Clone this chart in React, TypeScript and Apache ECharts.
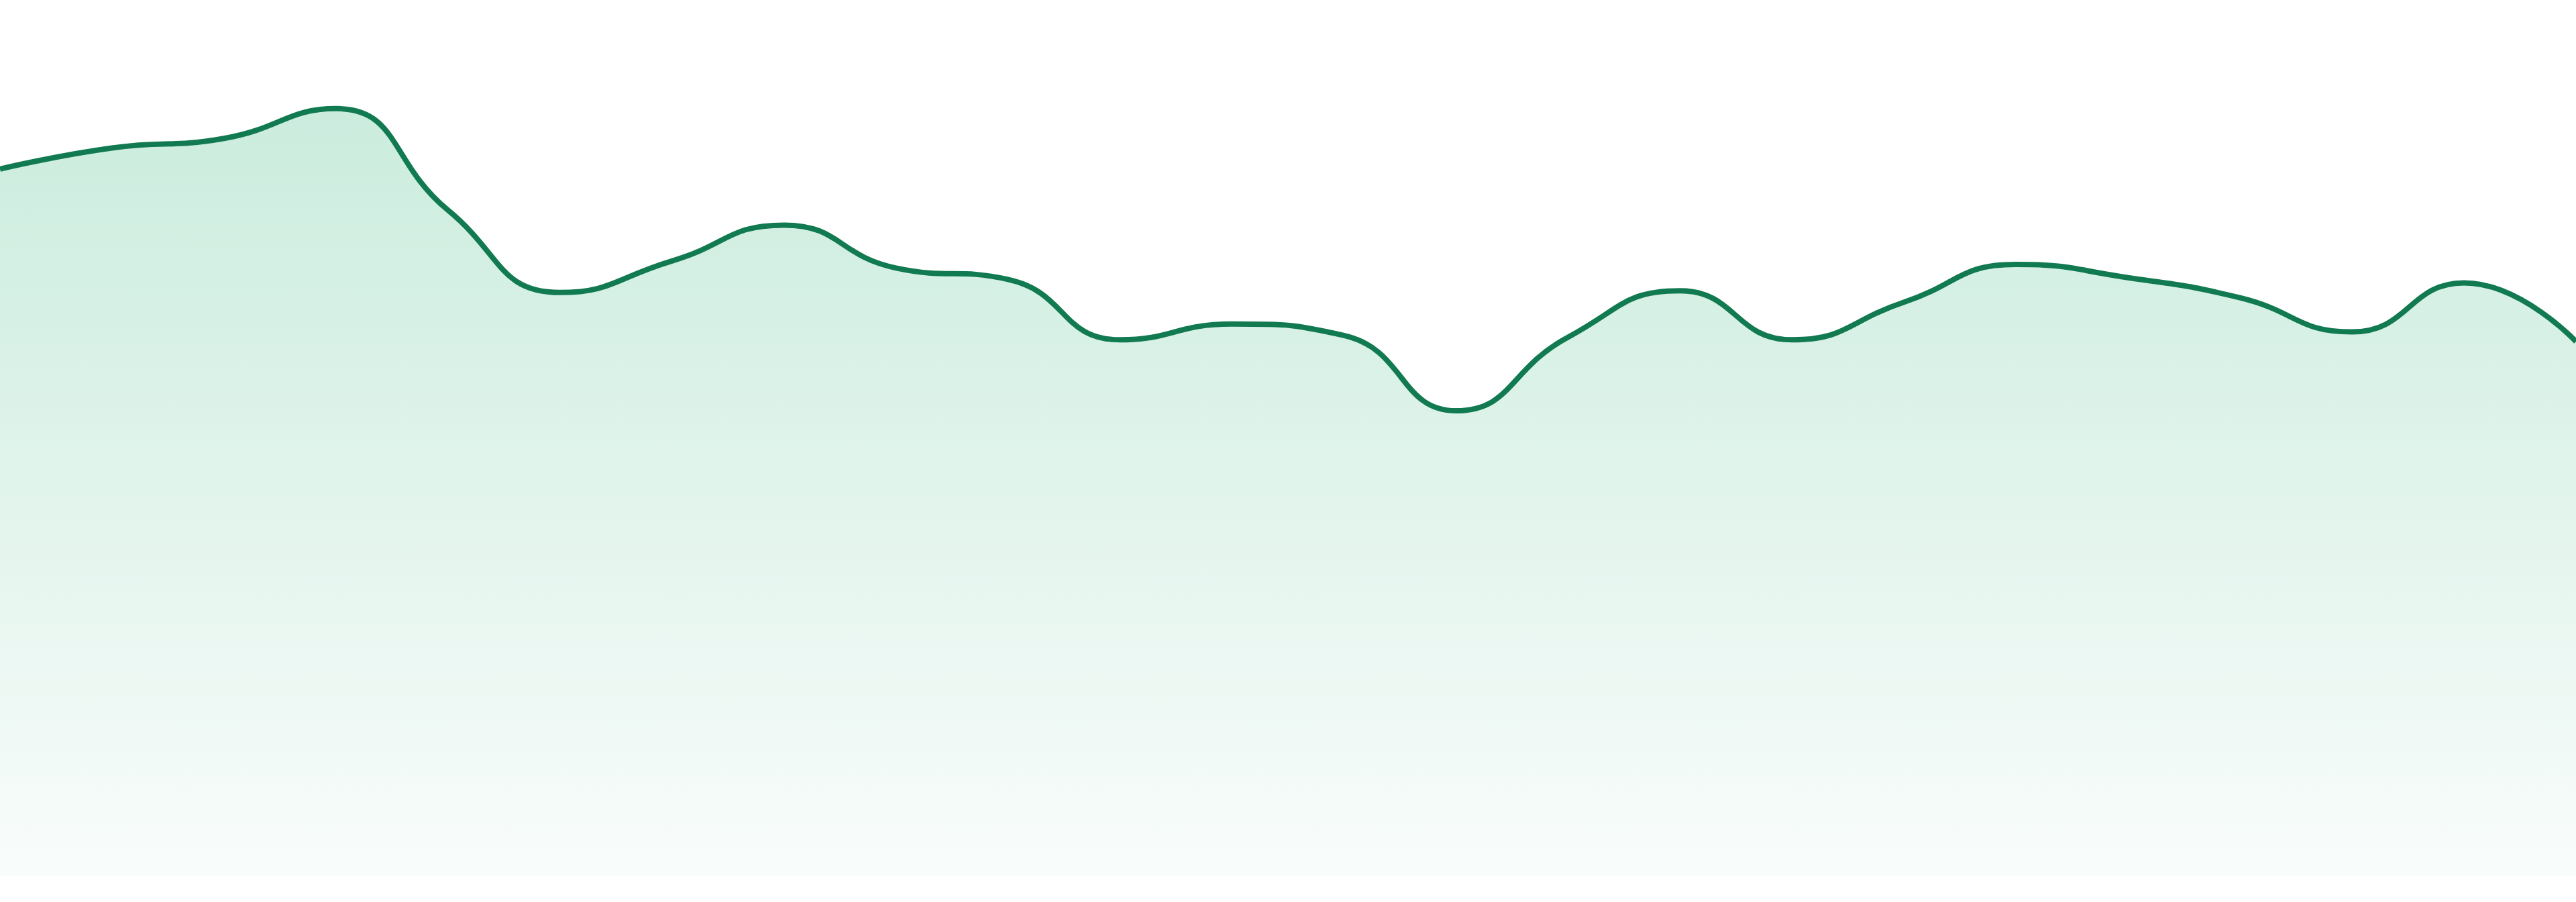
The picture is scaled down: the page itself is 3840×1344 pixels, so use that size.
import { useEffect, useRef } from 'react';
import * as echarts from 'echarts';

// ---------------------------------------------------------------------------
// Data
// ---------------------------------------------------------------------------

const HOURS = [
  '00:00', '01:00', '02:00', '03:00', '04:00', '05:00',
  '06:00', '07:00', '08:00', '09:00', '10:00', '11:00',
  '12:00', '13:00', '14:00', '15:00', '16:00', '17:00',
  '18:00', '19:00', '20:00', '21:00', '22:00', '23:00',
];

const VALUES = [
  80.7, 83.1, 84.2, 87.6, 76.0, 66.6,
  70.2, 74.3, 69.4, 68.1, 61.2, 63.0,
  61.7, 53.1, 61.5, 66.8, 61.2, 65.5,
  69.8, 68.3, 66.0, 62.1, 67.7, 61.0,
];

const Y_MIN = 0;
const Y_MAX = 100;

// ---------------------------------------------------------------------------
// Option
// ---------------------------------------------------------------------------

const LINE_COLOR = '#127a50';

function buildOption(): echarts.EChartsOption {
  return {
    animation: false,
    grid: { left: 0, right: 0, top: 0, bottom: 39 },
    xAxis: {
      type: 'category',
      data: HOURS,
      boundaryGap: false,
      show: false,
    },
    yAxis: {
      type: 'value',
      min: Y_MIN,
      max: Y_MAX,
      show: false,
    },
    series: [
      {
        type: 'line',
        data: VALUES,
        smooth: true,
        symbol: 'none',
        lineStyle: { color: LINE_COLOR, width: 8 },
        areaStyle: {
          color: new echarts.graphic.LinearGradient(0, 0, 0, 1, [
            { offset: 0, color: '#b4e4cf' },
            { offset: 1, color: '#f6fbf9' },
          ]),
        },
      },
    ],
  };
}

// ---------------------------------------------------------------------------
// Component
// ---------------------------------------------------------------------------

export default function App() {
  const containerRef = useRef<HTMLDivElement | null>(null);

  useEffect(() => {
    if (!containerRef.current) return;
    const chart = echarts.init(containerRef.current, undefined, { renderer: 'svg' });
    chart.setOption(buildOption());

    const handleResize = () => chart.resize();
    window.addEventListener('resize', handleResize);
    return () => {
      window.removeEventListener('resize', handleResize);
      chart.dispose();
    };
  }, []);

  return (
    <div
      ref={containerRef}
      style={{ position: 'fixed', top: 0, left: 0, width: '100vw', height: '100vh', background: '#fff' }}
    />
  );
}
